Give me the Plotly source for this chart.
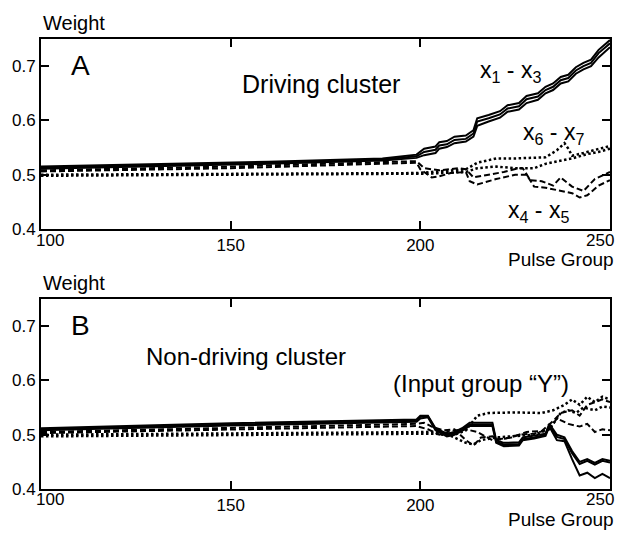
import plotly.graph_objects as go

# ---------------- Panel A: driving cluster ----------------
a_solid_x = [100, 130, 160, 190, 199, 201, 204, 205, 207, 209, 212, 214, 215, 218, 221, 223,
             226, 228, 231, 233, 235, 237, 239, 241, 243, 245, 247, 250]
a_x1 = [0.515, 0.519, 0.524, 0.530, 0.537, 0.548, 0.552, 0.560, 0.562, 0.570, 0.572, 0.582,
        0.604, 0.610, 0.617, 0.628, 0.632, 0.645, 0.650, 0.662, 0.668, 0.680, 0.684, 0.698,
        0.706, 0.712, 0.730, 0.748]
a_x2 = [0.513, 0.517, 0.522, 0.528, 0.534, 0.542, 0.546, 0.554, 0.556, 0.564, 0.566, 0.576,
        0.598, 0.604, 0.611, 0.622, 0.626, 0.639, 0.644, 0.656, 0.662, 0.674, 0.678, 0.692,
        0.700, 0.706, 0.724, 0.742]
a_x3 = [0.511, 0.515, 0.520, 0.526, 0.531, 0.536, 0.540, 0.548, 0.551, 0.558, 0.561, 0.570,
        0.590, 0.598, 0.605, 0.616, 0.620, 0.632, 0.638, 0.650, 0.656, 0.668, 0.672, 0.686,
        0.694, 0.700, 0.716, 0.735]

a_x4_x = [100, 150, 199, 200, 203, 205, 208, 212, 213, 215, 220, 225, 228, 230, 233, 236,
          238, 240, 242, 244, 247, 250]
a_x4 = [0.506, 0.512, 0.522, 0.510, 0.495, 0.497, 0.503, 0.505, 0.488, 0.482, 0.492, 0.500,
        0.500, 0.478, 0.476, 0.472, 0.470, 0.466, 0.458, 0.462, 0.480, 0.490]
a_x5_x = [100, 150, 199, 201, 205, 210, 212, 214, 218, 222, 226, 227, 229, 232, 235, 237,
          240, 243, 246, 250]
a_x5 = [0.508, 0.515, 0.525, 0.512, 0.508, 0.512, 0.510, 0.495, 0.500, 0.505, 0.512, 0.512,
        0.490, 0.488, 0.480, 0.495, 0.478, 0.470, 0.492, 0.505]

a_x6_x = [100, 150, 199, 203, 208, 212, 215, 220, 225, 230, 233, 236, 238, 239, 240, 243,
          246, 250]
a_x6 = [0.500, 0.501, 0.503, 0.505, 0.508, 0.510, 0.522, 0.530, 0.530, 0.531, 0.532, 0.545,
        0.558, 0.548, 0.535, 0.540, 0.545, 0.553]
a_x7_x = [100, 150, 199, 203, 208, 212, 215, 220, 225, 230, 233, 237, 240, 244, 247, 250]
a_x7 = [0.498, 0.500, 0.502, 0.502, 0.504, 0.505, 0.512, 0.515, 0.512, 0.512, 0.520, 0.525,
        0.530, 0.538, 0.542, 0.548]

# ---------------- Panel B: non-driving cluster ----------------
b_solid_x = [100, 150, 199, 200, 202, 204, 207, 209, 211, 213, 219, 220, 222, 226, 227, 230,
             233, 234, 236, 238, 240, 242, 244, 246, 248, 250]
b_y1 = [0.512, 0.521, 0.528, 0.535, 0.535, 0.512, 0.502, 0.505, 0.512, 0.522, 0.522, 0.490,
        0.485, 0.486, 0.495, 0.498, 0.502, 0.520, 0.500, 0.495, 0.470, 0.450, 0.455, 0.448,
        0.455, 0.452]
b_y2 = [0.510, 0.519, 0.526, 0.533, 0.534, 0.510, 0.500, 0.503, 0.510, 0.519, 0.519, 0.487,
        0.482, 0.483, 0.492, 0.495, 0.500, 0.517, 0.496, 0.492, 0.466, 0.446, 0.452, 0.445,
        0.452, 0.449]
b_y3 = [0.508, 0.517, 0.524, 0.530, 0.532, 0.508, 0.497, 0.500, 0.507, 0.516, 0.516, 0.485,
        0.479, 0.480, 0.490, 0.493, 0.498, 0.515, 0.490, 0.488, 0.455, 0.425, 0.430, 0.420,
        0.428, 0.420]

b_d1_x = [100, 150, 199, 201, 203, 206, 209, 212, 214, 216, 219, 221, 224, 228, 232, 235,
          237, 240, 242, 244, 246, 248, 250]
b_d1 = [0.505, 0.513, 0.520, 0.522, 0.515, 0.508, 0.510, 0.490, 0.480, 0.495, 0.497, 0.492,
        0.495, 0.505, 0.507, 0.525, 0.540, 0.545, 0.535, 0.555, 0.560, 0.565, 0.560]
b_d2_x = [100, 150, 199, 202, 205, 208, 212, 215, 219, 222, 226, 230, 234, 236, 239, 242,
          244, 246, 248, 250]
b_d2 = [0.503, 0.510, 0.516, 0.510, 0.500, 0.507, 0.510, 0.505, 0.490, 0.492, 0.500, 0.502,
        0.510, 0.530, 0.520, 0.515, 0.520, 0.505, 0.510, 0.508]

b_t1_x = [100, 150, 199, 204, 209, 212, 215, 218, 225, 232, 235, 238, 240, 242, 244, 246,
          248, 250]
b_t1 = [0.500, 0.503, 0.505, 0.505, 0.500, 0.508, 0.535, 0.540, 0.541, 0.540, 0.545, 0.555,
        0.565, 0.555, 0.570, 0.560, 0.570, 0.565]
b_t2_x = [100, 150, 199, 204, 208, 212, 214, 216, 220, 225, 230, 234, 237, 239, 241, 243,
          246, 248, 250]
b_t2 = [0.497, 0.500, 0.502, 0.502, 0.498, 0.485, 0.482, 0.490, 0.495, 0.498, 0.500, 0.510,
        0.540, 0.545, 0.540, 0.550, 0.545, 0.552, 0.550]

x_ticks = [100, 150, 200, 250]
x_tick_text = ["100", "150", "200", "250"]
y_ticks = [0.4, 0.5, 0.6, 0.7]
y_tick_text = ["0.4", "0.5", "0.6", "0.7"]

FONT = "Arial, Liberation Sans, sans-serif"
SOLID = dict(color="black", width=2)
DASH = dict(color="black", width=2, dash="6px,3px")
DOT = dict(color="black", width=2.5, dash="2.5px,2.5px")

fig = go.Figure()

def add(x, y, line, xa, ya):
    fig.add_trace(go.Scatter(x=x, y=y, mode="lines", line=line, xaxis=xa, yaxis=ya,
                             showlegend=False, hoverinfo="skip"))

# panel A
add(a_x7_x, a_x7, DOT, "x", "y")
add(a_x6_x, a_x6, DOT, "x", "y")
add(a_x5_x, a_x5, DASH, "x", "y")
add(a_x4_x, a_x4, DASH, "x", "y")
add(a_solid_x, a_x3, SOLID, "x", "y")
add(a_solid_x, a_x2, SOLID, "x", "y")
add(a_solid_x, a_x1, SOLID, "x", "y")
# panel B
add(b_t2_x, b_t2, DOT, "x2", "y2")
add(b_t1_x, b_t1, DOT, "x2", "y2")
add(b_d2_x, b_d2, DASH, "x2", "y2")
add(b_d1_x, b_d1, DASH, "x2", "y2")
add(b_solid_x, b_y3, SOLID, "x2", "y2")
add(b_solid_x, b_y2, SOLID, "x2", "y2")
add(b_solid_x, b_y1, SOLID, "x2", "y2")

axis_common = dict(showline=True, mirror="ticks", linecolor="black", linewidth=2,
                   ticks="inside", ticklen=8, tickwidth=2, tickcolor="black",
                   showgrid=False, zeroline=False,
                   tickfont=dict(family=FONT, size=17, color="black"))

# middle x tick labels come from the axis; the two end labels are nudged inward
# (as in the original figure) and drawn as annotations below
mid_tick_text = ["", x_tick_text[1], x_tick_text[2], ""]

fig.update_layout(
    width=624, height=533,
    margin=dict(l=41, r=12, t=39, b=44),
    paper_bgcolor="white", plot_bgcolor="white",
    font=dict(family=FONT, color="black"),
    xaxis=dict(axis_common, range=[100, 250], tickvals=x_ticks, ticktext=mid_tick_text,
               anchor="y", domain=[0, 1]),
    yaxis=dict(axis_common, range=[0.4, 0.75], tickvals=y_ticks, ticktext=y_tick_text,
               domain=[0.5778, 1], anchor="x"),
    xaxis2=dict(axis_common, range=[100, 250], tickvals=x_ticks, ticktext=mid_tick_text,
                anchor="y2", domain=[0, 1]),
    yaxis2=dict(axis_common, range=[0.4, 0.75], tickvals=y_ticks, ticktext=y_tick_text,
                domain=[0, 0.4222], anchor="x2"),
)

def ann(text, x, y, size, xref="x", yref="y", xanchor="center", yanchor="middle"):
    fig.add_annotation(text=text, x=x, y=y, xref=xref, yref=yref, showarrow=False,
                       xanchor=xanchor, yanchor=yanchor,
                       font=dict(family=FONT, size=size, color="black"))

ann("A", 110.5, 0.702, 28)
ann("Driving cluster", 173.8, 0.667, 25)
ann("x<sub>1</sub> - x<sub>3</sub>", 223.7, 0.690, 23)
ann("x<sub>6</sub> - x<sub>7</sub>", 235.0, 0.576, 23)
ann("x<sub>4</sub> - x<sub>5</sub>", 231.1, 0.432, 23)
ann("B", 110.5, 0.702, 28, "x2", "y2")
ann("Non-driving cluster", 154.1, 0.644, 24, "x2", "y2")
ann("(Input group \u201cY\u201d)", 216.1, 0.594, 24, "x2", "y2")

# end tick labels (100 and 250), nudged inward
for ypos in (0.5533, -0.0244):
    ann(x_tick_text[0], 0.0158, ypos, 17, "paper", "paper")
    ann(x_tick_text[3], 0.9825, ypos, 17, "paper", "paper")

ann("Weight", 0, 1.036, 20, "paper", "paper", xanchor="left")
ann("Weight", 0, 0.458, 20, "paper", "paper", xanchor="left")
ann("Pulse Group", 1.01, 0.509, 19, "paper", "paper", xanchor="right")
ann("Pulse Group", 1.01, -0.0667, 19, "paper", "paper", xanchor="right")

fig.write_html("out.html")
